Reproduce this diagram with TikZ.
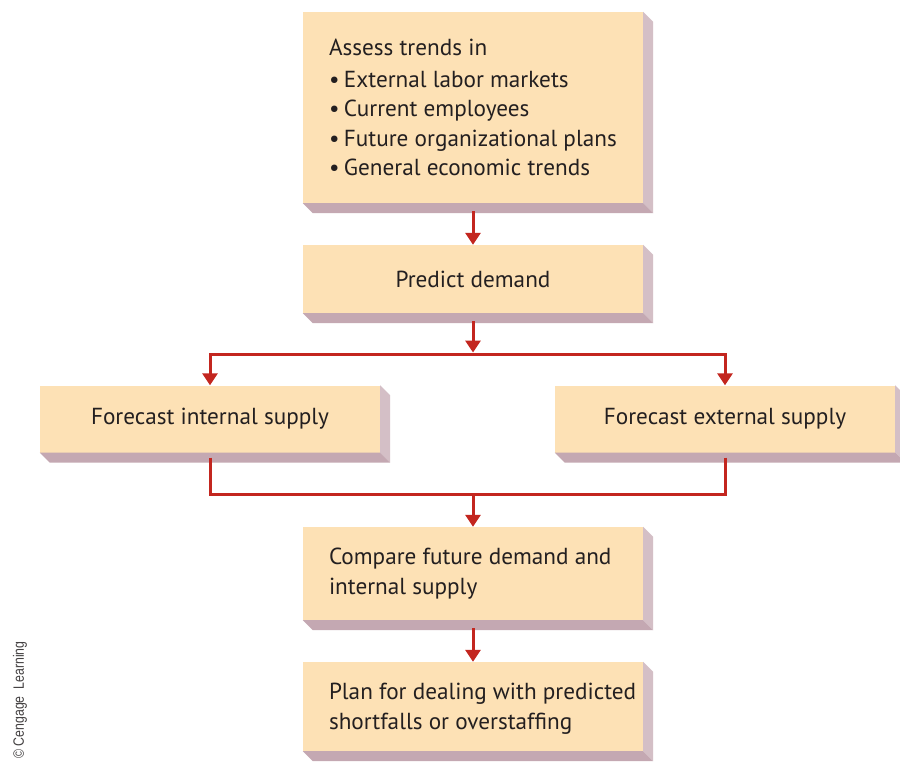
\documentclass[tikz,border=0pt]{standalone}
\usepackage{fontspec}
\setmainfont{PT Sans}
\newfontfamily\credfont[FakeStretch=0.82]{Liberation Sans}
\usetikzlibrary{arrows.meta}
\definecolor{boxfill}{HTML}{FDE1B5}
\definecolor{sidefill}{HTML}{D4BFC6}
\definecolor{bottomfill}{HTML}{C4A8B2}
\definecolor{linkred}{HTML}{C3261F}
\definecolor{txt}{HTML}{231F20}
\tikzset{
  x=1pt, y=-1pt,
  stepbox/.style={fill=boxfill, inner sep=0pt, minimum width=340pt, text=txt,
     font=\fontsize{23.2}{29.5}\selectfont},
  steptext/.style={inner sep=0pt, anchor=west, align=left, text=txt,
     font=\fontsize{23.2}{29.5}\selectfont},
  conn/.style={draw=linkred, line width=3pt, line join=miter},
  arr/.style={conn, -{Triangle[width=15pt,length=12pt]}},
}
\newcommand{\extrude}[1]{%
  \fill[sidefill] (#1.north east) -- ++(10,10) -- ([shift={(10pt,-10pt)}]#1.south east) -- (#1.south east) -- cycle;
  \fill[bottomfill] (#1.south west) -- (#1.south east) -- ([shift={(10pt,-10pt)}]#1.south east) -- ([shift={(10pt,-10pt)}]#1.south west) -- cycle;
}
\begin{document}
\begin{tikzpicture}
\clip (0,0) rectangle (900,761);
\fill[white] (0,0) rectangle (900,761);
\node[stepbox, minimum height=191pt] (a) at (473,107.5) {};
\node[stepbox, minimum height=68pt] (b) at (473,279) {Predict demand};
\node[stepbox, minimum height=67pt] (c) at (210,419) {Forecast internal supply};
\node[stepbox, minimum height=67pt] (d) at (725,419) {Forecast external supply};
\node[stepbox, minimum height=93pt] (e) at (473,573.5) {};
\node[stepbox, minimum height=89pt] (f) at (473,706.5) {};
\node[steptext] (ta) at ([xshift=26pt,yshift=0pt]a.west) {Assess trends in\\[2.5pt]
\makebox[15pt][l]{•}External labor markets\\
\makebox[15pt][l]{•}Current employees\\
\makebox[15pt][l]{•}Future organizational plans\\
\makebox[15pt][l]{•}General economic trends};
\node[steptext] (te) at ([xshift=26pt]e.west) {Compare future demand and\\internal supply};
\node[steptext] (tf) at ([xshift=26pt,yshift=-2pt]f.west) {Plan for dealing with predicted\\shortfalls or overstaffing};
\extrude{a}\extrude{b}\extrude{c}\extrude{d}\extrude{e}\extrude{f}
\coordinate (jt) at (473,354);
\coordinate (jb) at (473,494);
\draw[arr] ([yshift=-8pt]a.south) -- (b.north);
\draw[arr, shorten >=1.5pt] ([yshift=-8pt]b.south) -- (jt);
\draw[arr] (jt) -| (c.north);
\draw[arr] (jt) -| (d.north);
\draw[conn] ([yshift=-5pt]c.south) |- (jb);
\draw[conn] ([yshift=-5pt]d.south) |- (jb);
\draw[arr] (jb) -- (e.north);
\draw[arr] ([yshift=-8pt]e.south) -- (f.north);
\node[rotate=90, text=txt!85, font=\credfont\fontsize{15}{16}\selectfont] (cr) at (20,700) {© Cengage\ \ Learning};
\end{tikzpicture}
\end{document}
